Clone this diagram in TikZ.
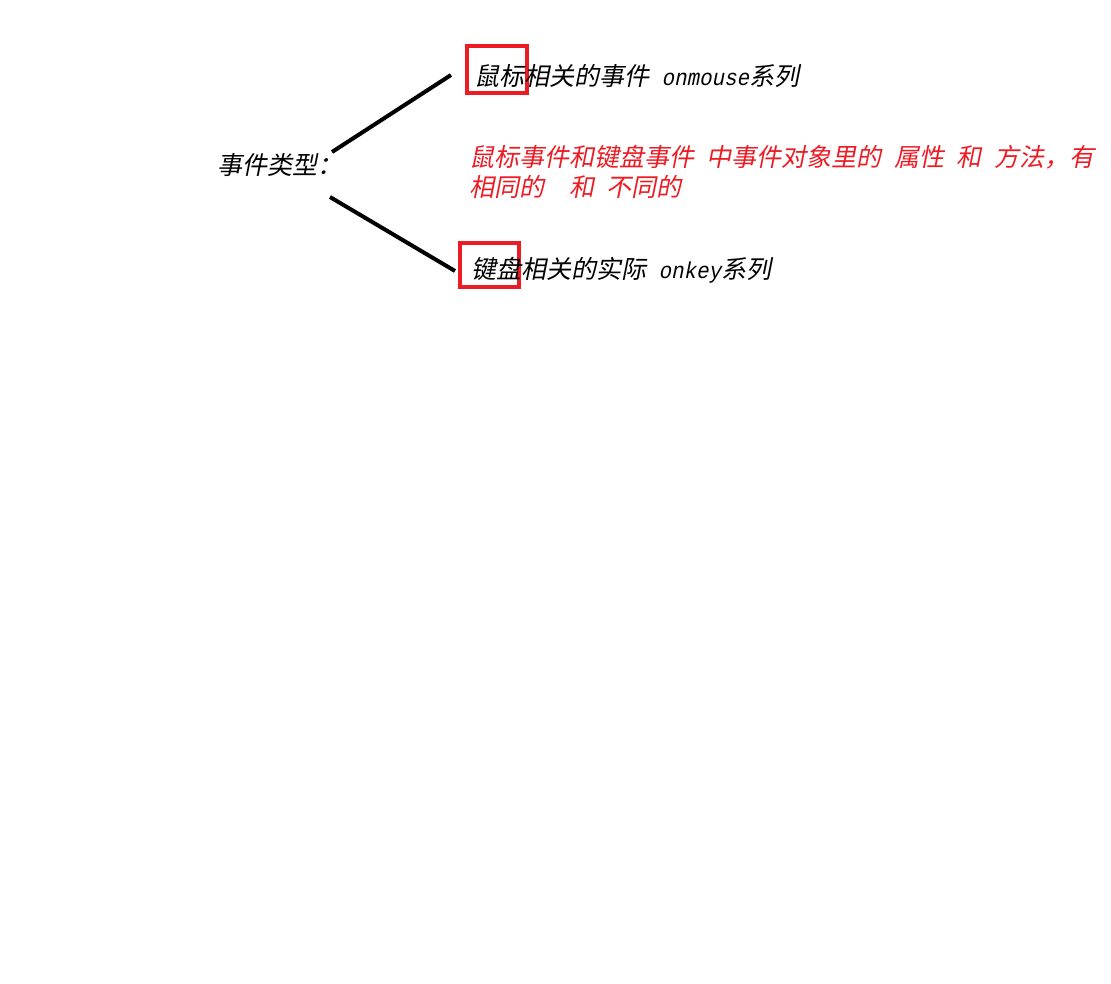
\documentclass[tikz,border=0pt]{standalone}
\usepackage{fontspec}
\newfontfamily\cjk{Noto Sans CJK SC}[FakeSlant=0.2]
\newfontfamily\latfont{Liberation Mono}[FakeSlant=0.2,FakeStretch=0.905]
\newcommand\lm[1]{{\latfont\fontsize{23}{29}\selectfont #1}}
\newcommand\hsp{\hspace*{12.5pt}}
\definecolor{pred}{RGB}{237,28,36}
\begin{document}
\begin{tikzpicture}[x=1pt,y=-1pt,
  txt/.style={inner sep=0pt, anchor=base west, font=\cjk\fontsize{25}{29}\selectfont},
  redtxt/.style={txt, text=pred},
  conn/.style={line width=4pt, black},
  redbox/.style={draw=pred, line width=4pt, inner sep=0pt}]
\useasboundingbox[fill=white] (0,0) rectangle (1111,983);
% boxes
\node[redbox, minimum width=60pt, minimum height=47pt] (box1) at (497,69.5) {};
\node[redbox, minimum width=59pt, minimum height=44pt] (box2) at (489.5,265) {};
% texts
\node[txt] (type) at (217,174) {事件类型：};
\node[txt] (mouse) at (474,85.5) {鼠标相关的事件\hsp\lm{onmouse}系列};
\node[txt] (key) at (471,278) {键盘相关的实际\hsp\lm{onkey}系列};
\node[redtxt] (note1) at (469,166.5) {鼠标事件和键盘事件\hsp 中事件对象里的\hsp 属性\hsp 和\hsp 方法，有};
\node[redtxt] (note2) at (469,196) {相同的\hsp\hsp 和\hsp 不同的};
% connectors
\coordinate (c1a) at (332,152);
\coordinate (c1b) at (451,75);
\coordinate (c2a) at (330,197);
\coordinate (c2b) at (455,271);
\draw[conn] (c1a) -- (c1b);
\draw[conn] (c2a) -- (c2b);
\end{tikzpicture}
\end{document}
